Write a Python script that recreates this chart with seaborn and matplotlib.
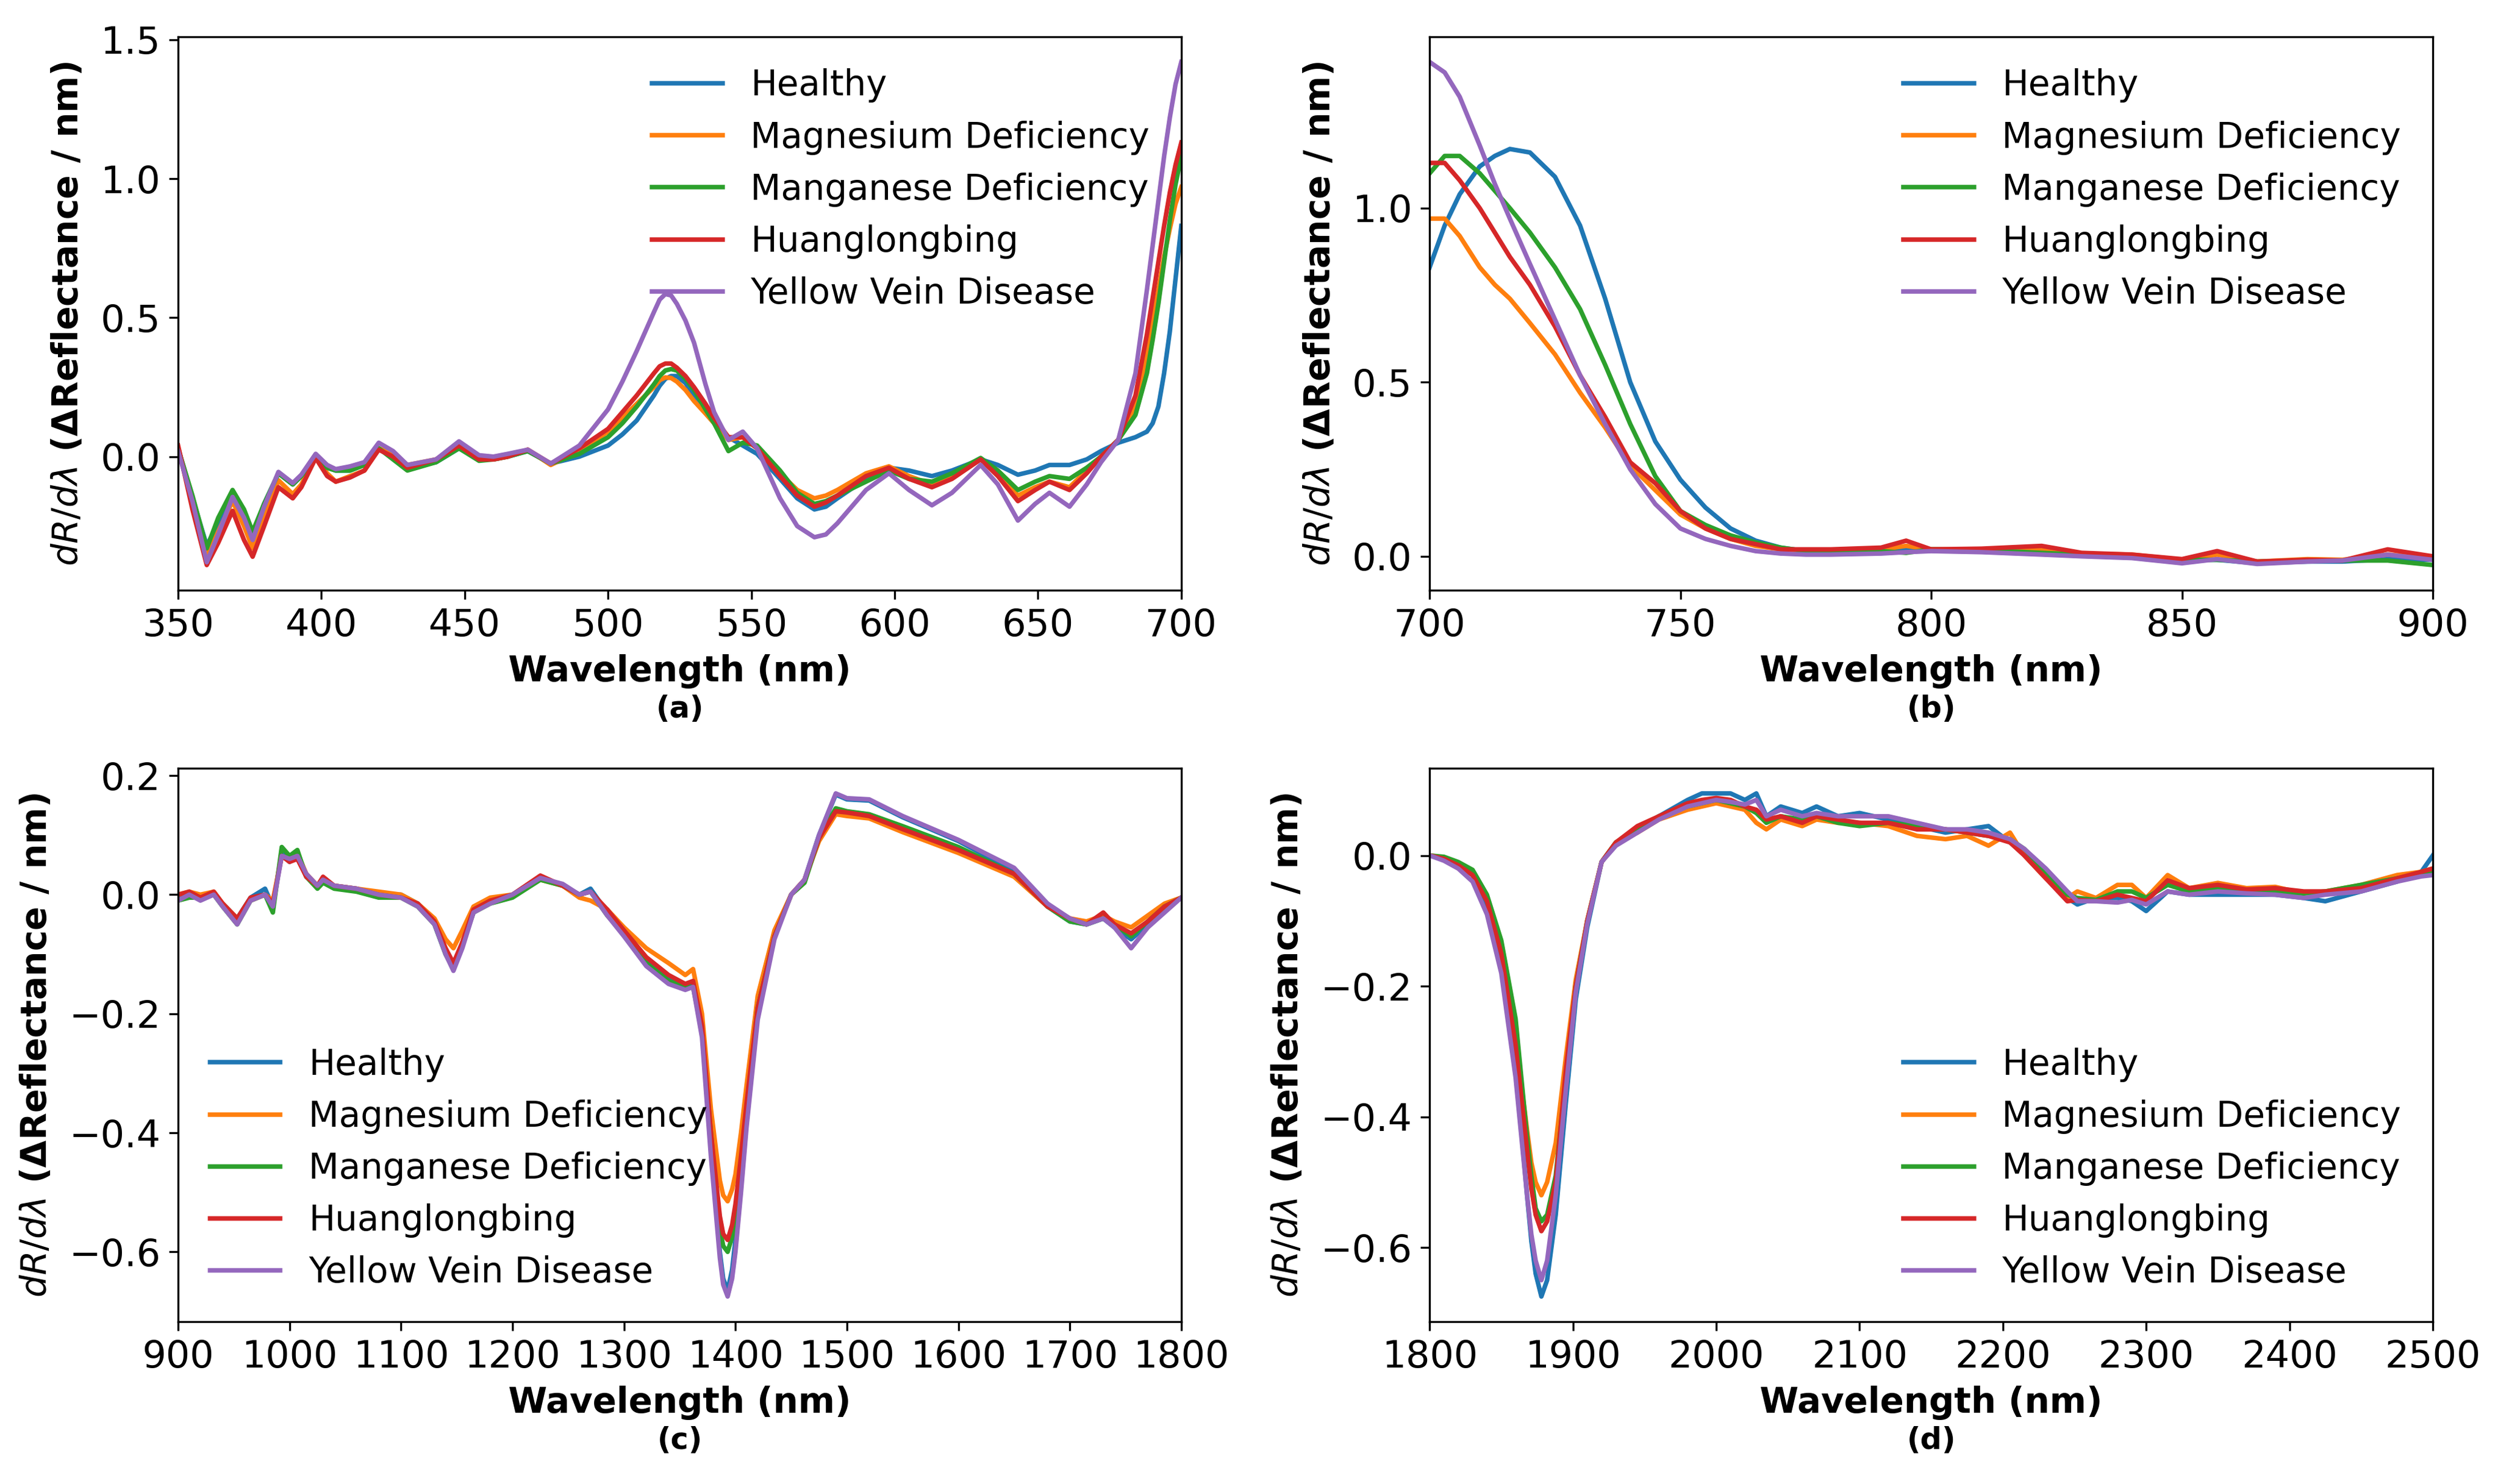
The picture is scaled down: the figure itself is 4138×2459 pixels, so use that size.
import pandas as pd
import matplotlib
matplotlib.use("Agg")
import matplotlib.pyplot as plt
from matplotlib.ticker import MultipleLocator
import seaborn as sns

# ---------------- DATA ----------------
names = ['Healthy', 'Magnesium Deficiency', 'Manganese Deficiency',
         'Huanglongbing', 'Yellow Vein Disease']

# (a) 350-700 nm
wl_a = [350, 355, 360, 364, 369, 373, 376, 380, 385, 390, 393, 398, 402, 405, 410,
        415, 420, 425, 430, 440, 448, 455, 460, 465, 472, 480, 490, 500, 505, 510,
        516, 518, 520, 522, 524, 527, 530, 534, 537, 542, 547, 552, 560, 566, 572,
        576, 580, 590, 598, 605, 613, 620, 630, 636, 643, 649, 654, 661, 667, 672,
        678, 684, 688, 690, 692, 694, 696, 698, 700]
healthy_a = [0.03, -0.15, -0.32, -0.24, -0.13, -0.21, -0.28, -0.17, -0.06, -0.10, -0.07, 0.00, -0.04, -0.05, -0.05,
             -0.03, 0.03, 0.00, -0.04, -0.02, 0.03, -0.01, -0.01, 0.00, 0.02, -0.025, 0.00, 0.04, 0.08, 0.13,
             0.22, 0.255, 0.28, 0.29, 0.29, 0.265, 0.22, 0.17, 0.13, 0.07, 0.04, 0.01, -0.08, -0.15, -0.19,
             -0.18, -0.15, -0.08, -0.04, -0.05, -0.07, -0.05, -0.01, -0.03, -0.065, -0.05, -0.03, -0.03, -0.01, 0.02,
             0.05, 0.07, 0.09, 0.12, 0.18, 0.30, 0.45, 0.64, 0.83]
mg_a = [0.03, -0.17, -0.36, -0.27, -0.16, -0.25, -0.33, -0.22, -0.085, -0.135, -0.10, 0.00, -0.06, -0.09, -0.07,
        -0.05, 0.03, 0.01, -0.03, -0.01, 0.04, 0.00, -0.01, 0.00, 0.025, -0.03, 0.02, 0.09, 0.14, 0.19,
        0.25, 0.275, 0.285, 0.283, 0.27, 0.24, 0.20, 0.155, 0.12, 0.06, 0.07, 0.03, -0.06, -0.12, -0.15,
        -0.14, -0.12, -0.06, -0.035, -0.07, -0.10, -0.07, -0.01, -0.06, -0.14, -0.11, -0.09, -0.11, -0.05, 0.00,
        0.06, 0.18, 0.36, 0.48, 0.60, 0.72, 0.82, 0.91, 0.97]
mn_a = [0.03, -0.14, -0.33, -0.22, -0.12, -0.19, -0.27, -0.17, -0.06, -0.10, -0.07, 0.00, -0.04, -0.05, -0.05,
        -0.03, 0.03, -0.01, -0.05, -0.02, 0.03, -0.015, -0.01, 0.00, 0.02, -0.025, 0.01, 0.07, 0.12, 0.18,
        0.26, 0.29, 0.31, 0.315, 0.31, 0.28, 0.24, 0.17, 0.12, 0.02, 0.05, 0.04, -0.05, -0.13, -0.17,
        -0.16, -0.14, -0.09, -0.05, -0.08, -0.09, -0.06, -0.005, -0.05, -0.12, -0.09, -0.07, -0.08, -0.04, 0.00,
        0.06, 0.15, 0.30, 0.42, 0.55, 0.70, 0.85, 0.98, 1.08]
hlb_a = [0.04, -0.19, -0.39, -0.31, -0.195, -0.30, -0.36, -0.25, -0.11, -0.15, -0.11, -0.005, -0.07, -0.09, -0.075,
         -0.05, 0.025, 0.00, -0.04, -0.01, 0.04, -0.01, -0.01, 0.00, 0.025, -0.025, 0.03, 0.10, 0.16, 0.22,
         0.30, 0.325, 0.335, 0.335, 0.32, 0.29, 0.25, 0.19, 0.14, 0.07, 0.07, 0.03, -0.07, -0.14, -0.18,
         -0.165, -0.14, -0.07, -0.04, -0.08, -0.11, -0.08, -0.01, -0.07, -0.16, -0.12, -0.09, -0.12, -0.06, 0.00,
         0.06, 0.22, 0.44, 0.57, 0.70, 0.83, 0.95, 1.05, 1.13]
yvd_a = [0.02, -0.16, -0.38, -0.28, -0.145, -0.22, -0.30, -0.18, -0.055, -0.095, -0.065, 0.01, -0.03, -0.045, -0.035,
         -0.02, 0.05, 0.02, -0.03, -0.01, 0.055, 0.005, 0.00, 0.01, 0.025, -0.025, 0.04, 0.17, 0.27, 0.38,
         0.52, 0.565, 0.585, 0.58, 0.55, 0.49, 0.41, 0.26, 0.16, 0.06, 0.09, 0.03, -0.15, -0.25, -0.29,
         -0.28, -0.24, -0.12, -0.06, -0.12, -0.175, -0.13, -0.03, -0.10, -0.23, -0.17, -0.13, -0.18, -0.10, -0.02,
         0.06, 0.30, 0.60, 0.76, 0.92, 1.08, 1.22, 1.34, 1.42]

# (b) 700-900 nm
wl_b = [700, 703, 706, 710, 713, 716, 720, 725, 730, 735, 740, 745, 750, 755, 760, 765, 770,
        775, 780, 790, 795, 800, 810, 822, 830, 840, 850, 857, 865, 875, 882, 891, 900]
healthy_b = [0.83, 0.95, 1.04, 1.12, 1.15, 1.17, 1.16, 1.09, 0.95, 0.74, 0.50, 0.33, 0.22, 0.14, 0.08, 0.045, 0.025,
             0.015, 0.015, 0.015, 0.02, 0.02, 0.018, 0.012, 0.005, 0.0, -0.01, -0.01, -0.02, -0.015, -0.015, -0.008, -0.01]
mg_b = [0.97, 0.97, 0.92, 0.83, 0.78, 0.74, 0.67, 0.58, 0.47, 0.37, 0.26, 0.19, 0.12, 0.08, 0.05, 0.03, 0.02,
        0.015, 0.018, 0.02, 0.03, 0.02, 0.02, 0.02, 0.008, 0.005, -0.01, 0.005, -0.015, -0.008, -0.01, 0.005, -0.005]
mn_b = [1.10, 1.15, 1.15, 1.10, 1.05, 1.00, 0.93, 0.83, 0.71, 0.55, 0.38, 0.23, 0.13, 0.09, 0.06, 0.04, 0.025,
        0.015, 0.015, 0.015, 0.01, 0.02, 0.018, 0.01, 0.005, 0.0, -0.01, -0.01, -0.015, -0.012, -0.012, -0.012, -0.025]
hlb_b = [1.13, 1.13, 1.08, 1.00, 0.93, 0.86, 0.78, 0.66, 0.52, 0.40, 0.27, 0.21, 0.13, 0.08, 0.05, 0.035, 0.02,
         0.02, 0.02, 0.025, 0.045, 0.02, 0.022, 0.03, 0.01, 0.005, -0.008, 0.015, -0.015, -0.01, -0.012, 0.02, 0.0]
yvd_b = [1.42, 1.39, 1.32, 1.18, 1.07, 0.97, 0.84, 0.68, 0.52, 0.38, 0.25, 0.15, 0.08, 0.05, 0.03, 0.015, 0.008,
         0.005, 0.005, 0.008, 0.012, 0.015, 0.012, 0.005, 0.0, -0.005, -0.02, -0.008, -0.022, -0.015, -0.012, 0.005, -0.01]

# (c) 900-1800 nm
wl_c = [900, 910, 920, 932, 940, 953, 965, 978, 985, 993, 1000, 1007, 1015, 1025, 1030, 1040,
        1060, 1080, 1100, 1115, 1130, 1140, 1147, 1155, 1165, 1180, 1200, 1225, 1245, 1260, 1270,
        1285, 1300, 1320, 1340, 1355, 1362, 1370, 1378, 1386, 1389, 1393, 1397, 1400, 1405, 1410,
        1420, 1435, 1450, 1462, 1475, 1490, 1500, 1520, 1550, 1600, 1650, 1680, 1700, 1715, 1730,
        1740, 1755, 1770, 1785, 1800]
healthy_c = [-0.005, 0.005, -0.005, 0.0, -0.015, -0.04, -0.005, 0.01, -0.02, 0.07, 0.055, 0.065, 0.03, 0.015, 0.025, 0.015,
             0.01, 0.0, 0.0, -0.015, -0.05, -0.10, -0.125, -0.08, -0.03, -0.01, 0.0, 0.03, 0.015, 0.0, 0.01,
             -0.03, -0.065, -0.11, -0.14, -0.155, -0.15, -0.23, -0.42, -0.60, -0.645, -0.665, -0.63, -0.58, -0.48, -0.38,
             -0.20, -0.07, 0.0, 0.025, 0.10, 0.168, 0.16, 0.158, 0.13, 0.09, 0.04, -0.02, -0.045, -0.05, -0.04,
             -0.055, -0.075, -0.05, -0.025, -0.005]
mg_c = [0.0, 0.005, 0.0, 0.005, -0.015, -0.04, -0.01, 0.0, -0.01, 0.065, 0.06, 0.07, 0.035, 0.015, 0.025, 0.015,
        0.01, 0.005, 0.0, -0.015, -0.04, -0.075, -0.09, -0.06, -0.02, -0.005, 0.0, 0.025, 0.015, -0.005, -0.01,
        -0.025, -0.055, -0.09, -0.115, -0.135, -0.125, -0.20, -0.36, -0.48, -0.505, -0.515, -0.495, -0.47, -0.40, -0.32,
        -0.17, -0.06, 0.0, 0.025, 0.09, 0.135, 0.132, 0.128, 0.105, 0.07, 0.03, -0.02, -0.04, -0.045, -0.035,
        -0.045, -0.055, -0.035, -0.015, -0.005]
mn_c = [-0.01, -0.005, -0.005, 0.0, -0.02, -0.05, -0.01, 0.0, -0.03, 0.08, 0.065, 0.075, 0.03, 0.01, 0.02, 0.01,
        0.005, -0.005, -0.005, -0.02, -0.05, -0.10, -0.125, -0.085, -0.03, -0.015, -0.005, 0.025, 0.015, 0.0, 0.005,
        -0.035, -0.065, -0.115, -0.145, -0.155, -0.155, -0.23, -0.40, -0.56, -0.59, -0.60, -0.575, -0.54, -0.45, -0.36,
        -0.19, -0.07, 0.0, 0.02, 0.095, 0.145, 0.14, 0.135, 0.115, 0.08, 0.035, -0.02, -0.045, -0.05, -0.04,
        -0.05, -0.07, -0.045, -0.02, -0.005]
hlb_c = [0.0, 0.005, -0.005, 0.005, -0.015, -0.04, -0.005, 0.0, -0.015, 0.065, 0.055, 0.06, 0.03, 0.015, 0.03, 0.015,
         0.01, 0.0, -0.005, -0.015, -0.045, -0.09, -0.115, -0.08, -0.025, -0.01, 0.0, 0.032, 0.015, 0.0, 0.005,
         -0.025, -0.06, -0.105, -0.135, -0.15, -0.145, -0.22, -0.40, -0.54, -0.57, -0.58, -0.555, -0.52, -0.44, -0.35,
         -0.19, -0.07, 0.0, 0.025, 0.095, 0.14, 0.138, 0.132, 0.11, 0.075, 0.035, -0.02, -0.04, -0.05, -0.03,
         -0.05, -0.065, -0.045, -0.02, -0.005]
yvd_c = [-0.01, 0.0, -0.01, 0.0, -0.02, -0.05, -0.01, 0.0, -0.02, 0.065, 0.06, 0.065, 0.035, 0.015, 0.025, 0.015,
         0.01, 0.0, -0.005, -0.02, -0.05, -0.10, -0.128, -0.09, -0.03, -0.015, 0.0, 0.028, 0.018, 0.0, 0.005,
         -0.035, -0.07, -0.12, -0.15, -0.16, -0.155, -0.24, -0.44, -0.61, -0.655, -0.675, -0.645, -0.60, -0.50, -0.39,
         -0.21, -0.075, 0.0, 0.025, 0.10, 0.17, 0.162, 0.16, 0.132, 0.092, 0.045, -0.015, -0.04, -0.05, -0.04,
         -0.055, -0.09, -0.055, -0.03, -0.005]

# (d) 1800-2500 nm
wl_d = [1800, 1810, 1820, 1830, 1840, 1850, 1860, 1864, 1868, 1871, 1874, 1878, 1882, 1888, 1895,
        1902, 1910, 1920, 1930, 1945, 1960, 1980, 1990, 2000, 2010, 2020, 2028, 2035, 2045, 2060,
        2070, 2085, 2100, 2120, 2140, 2160, 2175, 2190, 2205, 2215, 2230, 2245, 2252, 2265, 2280,
        2290, 2300, 2315, 2330, 2350, 2370, 2390, 2410, 2425, 2450, 2475, 2492, 2500]
healthy_d = [0.0, -0.005, -0.015, -0.03, -0.075, -0.16, -0.32, -0.42, -0.52, -0.59, -0.64, -0.675, -0.65, -0.55, -0.38,
             -0.22, -0.11, -0.01, 0.02, 0.04, 0.06, 0.085, 0.095, 0.095, 0.095, 0.085, 0.095, 0.06, 0.075, 0.065,
             0.075, 0.06, 0.065, 0.055, 0.045, 0.035, 0.04, 0.045, 0.02, 0.005, -0.03, -0.065, -0.075, -0.065, -0.065,
             -0.07, -0.085, -0.055, -0.06, -0.06, -0.06, -0.06, -0.065, -0.07, -0.055, -0.04, -0.025, 0.0]
mg_d = [0.0, -0.003, -0.012, -0.025, -0.065, -0.14, -0.27, -0.35, -0.42, -0.47, -0.50, -0.52, -0.50, -0.44, -0.31,
        -0.19, -0.10, -0.01, 0.02, 0.035, 0.055, 0.07, 0.075, 0.08, 0.075, 0.07, 0.05, 0.04, 0.055, 0.045,
        0.055, 0.05, 0.05, 0.045, 0.03, 0.025, 0.03, 0.015, 0.035, 0.0, -0.035, -0.065, -0.055, -0.065, -0.045,
        -0.045, -0.065, -0.03, -0.05, -0.042, -0.05, -0.048, -0.058, -0.055, -0.045, -0.03, -0.025, -0.02]
mn_d = [0.0, -0.002, -0.01, -0.022, -0.06, -0.13, -0.25, -0.34, -0.43, -0.49, -0.54, -0.56, -0.55, -0.49, -0.34,
        -0.20, -0.10, -0.01, 0.02, 0.04, 0.06, 0.075, 0.08, 0.085, 0.08, 0.075, 0.065, 0.05, 0.06, 0.055,
        0.06, 0.05, 0.045, 0.05, 0.045, 0.04, 0.035, 0.03, 0.025, 0.01, -0.025, -0.06, -0.065, -0.068, -0.055,
        -0.055, -0.065, -0.045, -0.055, -0.05, -0.055, -0.055, -0.058, -0.055, -0.045, -0.035, -0.028, -0.025]
hlb_d = [0.0, -0.005, -0.015, -0.03, -0.07, -0.15, -0.29, -0.37, -0.45, -0.51, -0.55, -0.575, -0.56, -0.50, -0.33,
         -0.20, -0.10, -0.01, 0.02, 0.045, 0.06, 0.08, 0.085, 0.088, 0.085, 0.075, 0.07, 0.055, 0.06, 0.05,
         0.06, 0.055, 0.05, 0.05, 0.04, 0.04, 0.035, 0.03, 0.02, 0.0, -0.035, -0.07, -0.068, -0.07, -0.06,
         -0.065, -0.07, -0.038, -0.05, -0.045, -0.052, -0.05, -0.055, -0.055, -0.05, -0.035, -0.025, -0.02]
yvd_d = [0.0, -0.008, -0.02, -0.04, -0.09, -0.18, -0.34, -0.43, -0.52, -0.58, -0.62, -0.65, -0.62, -0.52, -0.36,
         -0.21, -0.105, -0.01, 0.015, 0.035, 0.055, 0.075, 0.08, 0.085, 0.082, 0.078, 0.085, 0.06, 0.07, 0.06,
         0.065, 0.06, 0.06, 0.06, 0.05, 0.04, 0.04, 0.035, 0.025, 0.01, -0.02, -0.055, -0.07, -0.07, -0.072,
         -0.068, -0.075, -0.055, -0.06, -0.055, -0.058, -0.06, -0.065, -0.06, -0.055, -0.04, -0.032, -0.03]

panels = [
    ('(a)', wl_a, [healthy_a, mg_a, mn_a, hlb_a, yvd_a], 50, 0.5, 'upper right'),
    ('(b)', wl_b, [healthy_b, mg_b, mn_b, hlb_b, yvd_b], 50, 0.5, 'upper right'),
    ('(c)', wl_c, [healthy_c, mg_c, mn_c, hlb_c, yvd_c], 100, 0.2, 'lower left'),
    ('(d)', wl_d, [healthy_d, mg_d, mn_d, hlb_d, yvd_d], 100, 0.2, 'lower right'),
]

# axes rectangles (left, bottom, width, height) in figure fractions
rects = [
    [0.0713, 0.6023, 0.4016, 0.3729],
    [0.5723, 0.6023, 0.4016, 0.3729],
    [0.0713, 0.1094, 0.4016, 0.3729],
    [0.5723, 0.1094, 0.4016, 0.3729],
]

palette = sns.color_palette('tab10', 5)

fig = plt.figure(figsize=(4138 / 300, 2459 / 300), dpi=300)

for (tag, wl, series, xstep, ystep, loc), rect in zip(panels, rects):
    ax = fig.add_axes(rect)
    rows = []
    for name, vals in zip(names, series):
        for w, v in zip(wl, vals):
            rows.append({'Wavelength': w, 'Value': v, 'Condition': name})
    df = pd.DataFrame(rows)

    sns.lineplot(data=df, x='Wavelength', y='Value', hue='Condition',
                 hue_order=names, palette=palette, estimator=None,
                 linewidth=1.8, legend=False, ax=ax)

    ax.set_xlim(wl[0], wl[-1])
    ax.xaxis.set_major_locator(MultipleLocator(xstep))
    ax.yaxis.set_major_locator(MultipleLocator(ystep))
    ax.tick_params(labelsize=15)
    ax.set_xlabel('Wavelength (nm)', fontsize=14, fontweight='bold')
    ax.set_ylabel(r'$dR/d\lambda$ (ΔReflectance / nm)', fontsize=14,
                  fontweight='bold', labelpad=6)
    ax.text(0.5, -0.215, tag, transform=ax.transAxes, ha='center', va='center',
            fontsize=12, fontweight='bold')
    ax.legend(ax.lines, names, loc=loc, frameon=False, fontsize=14)

fig.savefig('out.png', dpi=300)
